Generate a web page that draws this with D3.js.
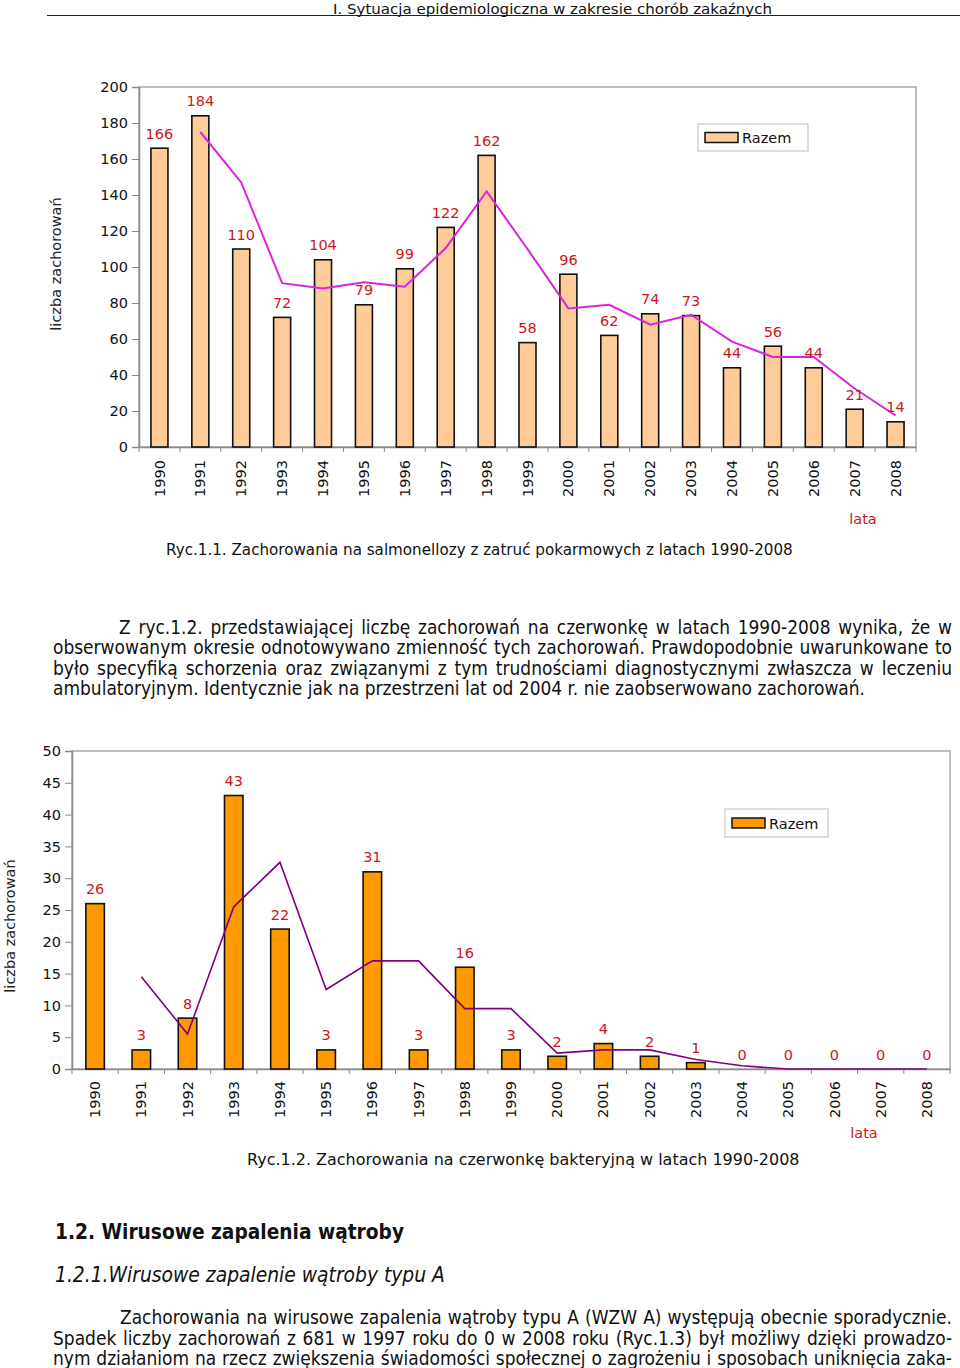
<!DOCTYPE html>
<html><head><meta charset="utf-8">
<script src="https://cdn.jsdelivr.net/npm/d3@7"></script>
<style>
html,body{margin:0;padding:0;background:#fff;}
svg{display:block;}
</style></head>
<body>
<svg id="page" width="960" height="1368"></svg>
<script>
// ---------- DATA ----------
const years = ["1990","1991","1992","1993","1994","1995","1996","1997","1998","1999","2000","2001","2002","2003","2004","2005","2006","2007","2008"];
const salmonellaCases = [166,184,110,72,104,79,99,122,162,58,96,62,74,73,44,56,44,21,14];
const salmonellaTrend = [null,175,147,91,88,91.5,89,110.5,142,110,77,79,68,73.5,58.5,50,50,32.5,17.5];
const salmonellaTicks = [0,20,40,60,80,100,120,140,160,180,200];
const dysenteryCases = [26,3,8,43,22,3,31,3,16,3,2,4,2,1,0,0,0,0,0];
const dysenteryTrend = [null,14.5,5.5,25.5,32.5,12.5,17,17,9.5,9.5,2.5,3,3,1.5,0.5,0,0,0,0];
const dysenteryTicks = [0,5,10,15,20,25,30,35,40,45,50];
const seriesName = "Razem";
const yTitle = "liczba zachorowań";
const xTitle = "lata";
const caption1 = "Ryc.1.1. Zachorowania na salmonellozy z zatruć pokarmowych z latach 1990-2008";
const caption2 = "Ryc.1.2. Zachorowania na czerwonkę bakteryjną w latach 1990-2008";
const headerText = "I. Sytuacja epidemiologiczna w zakresie chorób zakaźnych";
const para1 = [
 "Z ryc.1.2. przedstawiającej liczbę zachorowań na czerwonkę w latach 1990-2008 wynika, że w",
 "obserwowanym okresie odnotowywano zmienność tych zachorowań. Prawdopodobnie uwarunkowane to",
 "było specyfiką schorzenia oraz związanymi z tym trudnościami diagnostycznymi zwłaszcza w leczeniu",
 "ambulatoryjnym. Identycznie jak na przestrzeni lat od 2004 r. nie zaobserwowano zachorowań."
];
const heading1 = "1.2. Wirusowe zapalenia wątroby";
const heading2 = "1.2.1.Wirusowe zapalenie wątroby typu A";
const para2 = [
 "Zachorowania na wirusowe zapalenia wątroby typu A (WZW A) występują obecnie sporadycznie.",
 "Spadek liczby zachorowań z 681 w 1997 roku do 0 w 2008 roku (Ryc.1.3) był możliwy dzięki prowadzo-",
 "nym działaniom na rzecz zwiększenia świadomości społecznej o zagrożeniu i sposobach uniknięcia zaka-"
];

const svg = d3.select("#page");
const FONT = "DejaVu Sans, Verdana, sans-serif";
const COND = "DejaVu Sans Condensed, Liberation Sans Narrow, DejaVu Sans, sans-serif";
const RED = "#D0141C";

function fitSize(t, w){
  const n = t.node(); const fs = parseFloat(t.attr("font-size"));
  const len = n.getComputedTextLength();
  if(len>0) t.attr("font-size", (fs*w/len).toFixed(2));
}
function justify(t, w){
  const s = t.text(); const spaces = (s.match(/ /g)||[]).length;
  const len = t.node().getComputedTextLength();
  if(spaces>0 && len<w) t.attr("word-spacing", ((w-len)/spaces).toFixed(2));
  else if(len>w) t.attr("textLength", w).attr("lengthAdjust","spacingAndGlyphs");
}

// ---------- HEADER ----------
svg.append("text").attr("x",333).attr("y",13.5).attr("font-family",COND).attr("font-size",13.5).attr("fill","#111")
  .attr("textLength",439).attr("lengthAdjust","spacingAndGlyphs").text(headerText);
svg.append("line").attr("x1",47).attr("x2",960).attr("y1",15.5).attr("y2",15.5).attr("stroke","#222").attr("stroke-width",1.2);

// ---------- CHART FUNCTION ----------
function drawChart(o){
  const g = svg.append("g");
  const x = d3.scaleBand().domain(years).range([o.left,o.right]).paddingInner(0).paddingOuter(0);
  const y = d3.scaleLinear().domain([0,o.max]).range([o.bottom,o.top]);
  const bw = o.barW;
  g.append("rect").attr("x",o.left).attr("y",o.top).attr("width",o.right-o.left).attr("height",o.bottom-o.top)
    .attr("fill","none").attr("stroke","#A8A8A8").attr("stroke-width",1.5);
  const ya = d3.axisLeft(y).tickValues(o.ticks).tickSize(7).tickPadding(4).tickFormat(d3.format("d"));
  const yg = g.append("g").attr("transform",`translate(${o.left},0)`).call(ya);
  yg.select(".domain").attr("stroke","#8a8a8a").attr("stroke-width",1.5);
  yg.selectAll(".tick line").attr("stroke","#8a8a8a");
  yg.selectAll(".tick text").attr("font-family",FONT).attr("font-size",14.5).attr("fill","#111");
  const xa = d3.axisBottom(x).tickSize(0).tickPadding(0);
  const xg = g.append("g").attr("transform",`translate(0,${o.bottom})`).call(xa);
  xg.select(".domain").attr("stroke","#8a8a8a").attr("stroke-width",1.5);
  xg.selectAll(".tick text").attr("font-family",FONT).attr("font-size",14.5).attr("fill","#111")
    .attr("transform","rotate(-90)").attr("text-anchor","end").attr("dy","0.35em").attr("x",-o.yearGap).attr("y",0);
  const bounds = years.map(d=>x(d)).concat([o.right]);
  g.append("g").selectAll("line").data(bounds).join("line")
    .attr("x1",d=>d).attr("x2",d=>d).attr("y1",o.bottom).attr("y2",o.bottom+5)
    .attr("stroke","#8a8a8a").attr("stroke-width",1);
  g.append("g").selectAll("rect").data(o.values).join("rect")
    .attr("x",(d,i)=>x(years[i])+x.bandwidth()/2-bw/2)
    .attr("y",d=>y(d)).attr("width",bw).attr("height",d=>o.bottom-y(d))
    .attr("fill",o.fill).attr("stroke","#111").attr("stroke-width",1.6);
  const line = d3.line().defined(d=>d.v!==null).x(d=>x(d.k)+x.bandwidth()/2).y(d=>y(d.v));
  g.append("path").datum(o.trend.map((v,i)=>({k:years[i],v})))
    .attr("d",line).attr("fill","none").attr("stroke",o.lineColor).attr("stroke-width",o.lineW);
  g.append("g").selectAll("text").data(o.values).join("text")
    .attr("x",(d,i)=>x(years[i])+x.bandwidth()/2).attr("y",d=>y(d)-9.5)
    .attr("text-anchor","middle").attr("font-family",FONT).attr("font-size",14.5).attr("fill",RED)
    .text(d=>d);
  const lg = g.append("g");
  lg.append("rect").attr("x",o.leg.x).attr("y",o.leg.y).attr("width",o.leg.w).attr("height",o.leg.h)
    .attr("fill","#fff").attr("stroke","#C8C8C8").attr("stroke-width",1.2);
  lg.append("rect").attr("x",o.leg.x+7).attr("y",o.leg.y+o.leg.h/2-5).attr("width",33).attr("height",10)
    .attr("fill",o.fill).attr("stroke","#111").attr("stroke-width",1.5);
  lg.append("text").attr("x",o.leg.x+44).attr("y",o.leg.y+o.leg.h/2+5.5).attr("font-family",FONT).attr("font-size",14.5).attr("fill","#111").text(seriesName);
  g.append("text").attr("transform",`translate(${o.yTitleX},${o.yTitleY}) rotate(-90)`)
    .attr("text-anchor","middle").attr("dy","0.35em").attr("font-family",FONT).attr("font-size",14.5).attr("fill","#222").text(yTitle);
  g.append("text").attr("x",o.xTitleX).attr("y",o.xTitleY).attr("text-anchor","middle").attr("dy","0.35em")
    .attr("font-family",FONT).attr("font-size",14.5).attr("fill",RED).text(xTitle);
  const ct = g.append("text").attr("x",o.capX).attr("y",o.capY).attr("dy","0.35em")
    .attr("font-family",FONT).attr("font-size",14.5).attr("fill","#111").text(o.caption);
  fitSize(ct, o.capW);
}

drawChart({left:139,right:916,top:87,bottom:447,max:200,ticks:salmonellaTicks,values:salmonellaCases,trend:salmonellaTrend,
  barW:17,fill:"#FFCC99",lineColor:"#DD22DD",lineW:2,yearGap:13,
  leg:{x:698,y:124,w:110,h:27},yTitleX:56,yTitleY:264,xTitleX:863,xTitleY:519,
  caption:caption1,capX:166,capY:550,capW:627});

drawChart({left:72,right:950,top:751,bottom:1069,max:50,ticks:dysenteryTicks,values:dysenteryCases,trend:dysenteryTrend,
  barW:18.5,fill:"#FF9900",lineColor:"#800080",lineW:1.6,yearGap:12,
  leg:{x:725,y:809,w:103,h:28},yTitleX:10,yTitleY:926,xTitleX:864,xTitleY:1133,
  caption:caption2,capX:247,capY:1159,capW:553});

// ---------- TEXT BLOCKS ----------
function paragraph(lines, ys, firstX, justifyLast, fs){
  lines.forEach((s,i)=>{
    const x0 = i===0?firstX:53;
    const t = svg.append("text").attr("x",x0).attr("y",ys[i]).attr("dy","0.35em").attr("font-family",COND)
      .attr("font-size",fs).attr("fill","#111").text(s);
    if(i<lines.length-1 || justifyLast) justify(t, 952-x0);
  });
}
const probe = svg.append("text").attr("font-family",COND).attr("font-size",16).text(para1[3]);
const probeLen = probe.node().getComputedTextLength();
probe.remove();
const PFS = +(16*(865-53)/probeLen).toFixed(2);

paragraph(para1,[627,647,668,688],119,false,PFS);
const h1 = svg.append("text").attr("x",55).attr("y",1232).attr("dy","0.35em").attr("font-family",COND).attr("font-weight","bold").attr("font-size",19).attr("fill","#111").text(heading1);
fitSize(h1, 349);
const h2 = svg.append("text").attr("x",55).attr("y",1275).attr("dy","0.35em").attr("font-family",COND).attr("font-style","italic").attr("font-size",18).attr("fill","#111").text(heading2);
fitSize(h2, 390);
paragraph(para2,[1317,1338,1358],120,true,PFS);
</script>
</body></html>
